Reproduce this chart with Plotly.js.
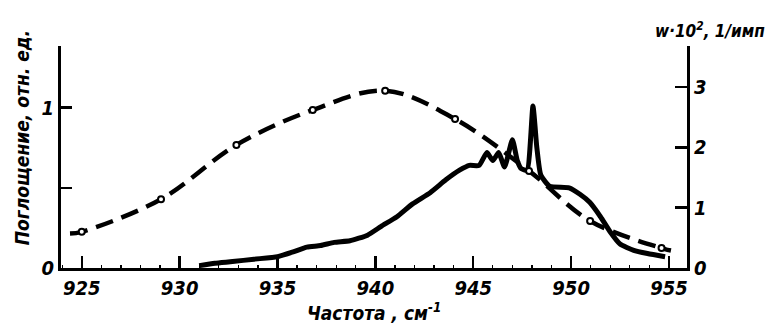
<!DOCTYPE html>
<html>
<head>
<meta charset="utf-8">
<script src="https://cdn.plot.ly/plotly-3.0.1.min.js"></script>
<style>
html,body{margin:0;padding:0;background:#fff;}
#chart{width:775px;height:326px;}
</style>
</head>
<body>
<div id="chart"></div>
<script>
// Absorption spectrum (solid, left axis)
const absX = [931.0, 931.8, 932.7, 933.8, 935.0, 935.8, 936.5, 937.2, 937.9, 938.7, 939.6, 940.3, 941.1, 941.9, 942.8, 943.6, 944.3, 944.8, 945.3, 945.7, 946.0, 946.3, 946.6, 947.0, 947.25, 947.45, 947.75, 948.05, 948.25, 948.45, 948.9, 949.9, 950.45, 950.95, 951.5, 952.0, 952.5, 953.2, 953.9, 954.8];
const absY = [0.015, 0.03, 0.04, 0.055, 0.07, 0.10, 0.13, 0.14, 0.16, 0.17, 0.205, 0.26, 0.32, 0.40, 0.47, 0.55, 0.61, 0.64, 0.64, 0.72, 0.67, 0.72, 0.63, 0.80, 0.67, 0.62, 0.61, 1.01, 0.75, 0.58, 0.51, 0.50, 0.46, 0.41, 0.32, 0.225, 0.15, 0.11, 0.09, 0.07];

// w·10^2 curve (dashed, right axis)
const wCurveX = [924.4, 925.0, 929.05, 932.9, 936.8, 940.5, 944.07, 947.85, 950.97, 954.62, 955.1];
const wCurveY = [0.57, 0.60, 1.14, 2.04, 2.62, 2.94, 2.47, 1.61, 0.78, 0.33, 0.29];
// measured points (open circles)
const wPointX = [925.0, 929.05, 932.9, 936.8, 940.5, 944.07, 947.85, 950.97, 954.62];
const wPointY = [0.60, 1.14, 2.04, 2.62, 2.94, 2.47, 1.61, 0.78, 0.33];

const xTicks = [925, 930, 935, 940, 945, 950, 955];
const leftTicks = [0, 1];
const leftMinorTicks = [0.5];
const rightTicks = [0, 1, 2, 3];

const FONT = "'Liberation Sans Narrow', 'DejaVu Sans Condensed', 'Arial Narrow', sans-serif";
const tf = {family: FONT, size: 20, color: '#000', weight: 'bold', style: 'italic'};

const traces = [
  {x: absX, y: absY, type: 'scatter', mode: 'lines', yaxis: 'y',
   line: {color: '#000', width: 5, shape: 'spline', smoothing: 0.5}, hoverinfo: 'skip'},
  {x: wCurveX, y: wCurveY, type: 'scatter', mode: 'lines', yaxis: 'y2',
   line: {color: '#000', width: 4.5, dash: '18px,9px', shape: 'spline', smoothing: 1}, hoverinfo: 'skip'},
  {x: wPointX, y: wPointY, type: 'scatter', mode: 'markers', yaxis: 'y2',
   marker: {symbol: 'circle', size: 6, color: '#fff', line: {color: '#000', width: 2}}, hoverinfo: 'skip'}
];

const layout = {
  width: 775, height: 326,
  margin: {l: 61, r: 88, t: 46, b: 58},
  paper_bgcolor: '#fff', plot_bgcolor: '#fff',
  showlegend: false,
  xaxis: {
    range: [923.94, 955.92], tickvals: xTicks, ticks: 'inside', ticklen: 12, tickwidth: 2.5,
    tickcolor: '#000', showline: true, linecolor: '#000', linewidth: 3, showgrid: false, zeroline: false,
    tickfont: tf,
    minor: {dtick: 1, tick0: 925, ticks: 'inside', ticklen: 3, tickwidth: 1.2, tickcolor: '#000', showgrid: false}
  },
  yaxis: {
    range: [0, 1.385], tickvals: leftTicks, ticks: 'inside', ticklen: 11, tickwidth: 2.5,
    tickcolor: '#000', showline: true, linecolor: '#000', linewidth: 3, showgrid: false, zeroline: false,
    tickfont: tf,
    minor: {tickvals: leftMinorTicks, ticks: 'inside', ticklen: 11, tickwidth: 2.5, tickcolor: '#000', showgrid: false}
  },
  yaxis2: {
    range: [0, 3.68], tickvals: rightTicks, overlaying: 'y', side: 'right', ticks: 'inside', ticklen: 12, tickwidth: 2.5,
    tickcolor: '#000', showline: true, linecolor: '#000', linewidth: 3, showgrid: false, zeroline: false,
    tickfont: tf
  },
  annotations: [
    {text: 'Частота , см<sup>-1</sup>', xref: 'paper', yref: 'paper', x: 0.5, y: -0.2, xanchor: 'center', yanchor: 'middle',
     showarrow: false, font: {family: FONT, size: 19, color: '#000', weight: 'bold', style: 'italic'}},
    {text: 'Поглощение, отн. ед.', xref: 'paper', yref: 'paper', x: -0.062, y: 0.585, xanchor: 'center', yanchor: 'middle',
     textangle: -90, showarrow: false, font: {family: FONT, size: 19, color: '#000', weight: 'bold', style: 'italic'}},
    {text: 'w·10<sup>2</sup>, 1/имп', xref: 'paper', yref: 'paper', x: 1.037, y: 1.07, xanchor: 'center', yanchor: 'middle',
     showarrow: false, font: {family: FONT, size: 17, color: '#000', weight: 'bold', style: 'italic'}}
  ]
};

Plotly.newPlot('chart', traces, layout, {staticPlot: true, displayModeBar: false});
</script>
</body>
</html>
